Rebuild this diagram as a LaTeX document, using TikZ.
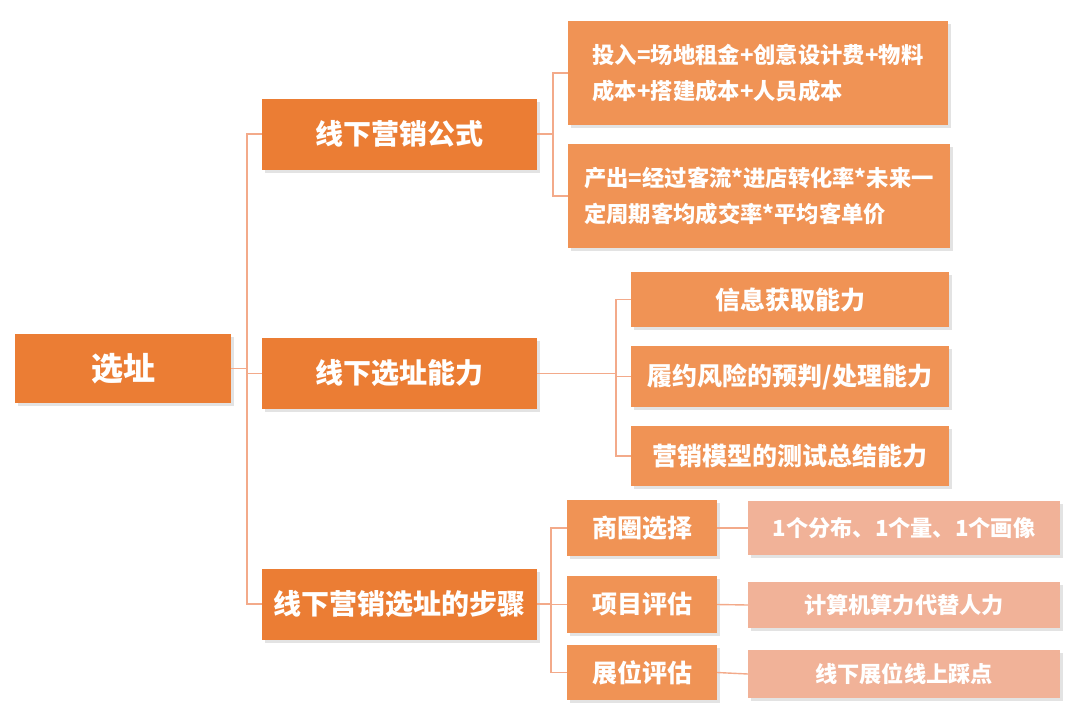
\documentclass[tikz,border=0pt]{standalone}
\usepackage{fontspec}
\setmainfont{Noto Sans CJK SC}
\usetikzlibrary{shadows}
\definecolor{dark}{RGB}{235,125,52}
\definecolor{mid}{RGB}{240,147,85}
\definecolor{light}{RGB}{241,178,152}
\definecolor{link}{RGB}{243,170,138}
\tikzset{
  box/.style={draw=none, text=white, font=\bfseries, inner sep=0pt, align=center,
    drop shadow={opacity=0.22, shadow xshift=2.5pt, shadow yshift=-3pt}},
  rootbox/.style={box, fill=dark, font=\fontsize{32}{36}\selectfont\bfseries},
  lvtwo/.style={box, fill=dark, minimum width=275pt, minimum height=71pt, font=\fontsize{28}{32}\selectfont\bfseries},
  formula/.style={box, fill=mid, font=\fontsize{22.3}{36.5}\selectfont\bfseries, align=left},
  ability/.style={box, fill=mid, minimum width=318pt, font=\fontsize{25}{30}\selectfont\bfseries},
  stepbox/.style={box, fill=mid, minimum width=150pt, font=\fontsize{25}{30}\selectfont\bfseries},
  detail/.style={box, fill=light, minimum width=312pt, font=\fontsize{22.2}{26}\selectfont\bfseries},
  conn/.style={draw=link, line width=1.4pt}
}
\begin{document}
\begin{tikzpicture}[x=1pt,y=-1pt]
\useasboundingbox (0,0) rectangle (1080,721);
% root
\node[rootbox, minimum width=216pt, minimum height=69pt] (root) at (123,368.5) {选址};
% level 2
\node[lvtwo] (b1) at (399.5,134) {线下营销公式};
\node[lvtwo] (b2) at (399.5,373.5) {线下选址能力};
\node[lvtwo] (b3) at (399.5,604) {线下营销选址的步骤};
% formulas
\node[formula, minimum width=380pt, minimum height=104pt] (f1) at (758,73) {投入=场地租金+创意设计费+物料\\成本+搭建成本+人员成本};
\node[formula, minimum width=382pt, minimum height=104pt] (f2) at (759,196) {产出=经过客流*进店转化率*未来一\\定周期客均成交率*平均客单价};
% abilities
\node[ability, minimum height=55pt] (a1) at (790,299.5) {信息获取能力};
\node[ability, minimum height=61pt] (a2) at (790,376.5) {履约风险的预判/处理能力};
\node[ability, minimum height=60pt] (a3) at (790,456) {营销模型的测试总结能力};
% steps
\node[stepbox, minimum height=56pt] (s1) at (642,528) {商圈选择};
\node[stepbox, minimum height=57pt] (s2) at (642,604.5) {项目评估};
\node[stepbox, minimum height=55pt] (s3) at (642,672.5) {展位评估};
% details
\node[detail, minimum height=54pt] (d1) at (904,528) {1个分布、1个量、1个画像};
\node[detail, minimum height=46pt] (d2) at (904,605) {计算机算力代替人力};
\node[detail, minimum height=48pt] (d3) at (904,674) {线下展位线上踩点};
% connectors
\coordinate (j0) at (247,368.5);
\draw[conn] (root.east) -- (j0);
\draw[conn] (j0) |- (b1.west);
\draw[conn] (j0) |- (b2.west);
\draw[conn] (j0) |- (b3.west);
\coordinate (j1) at (553,134);
\draw[conn] (b1.east) -- (j1);
\draw[conn] (j1) |- (f1.west);
\draw[conn] (j1) |- (f2.west);
\coordinate (j2) at (616,373.5);
\draw[conn] (b2.east) -- (j2);
\draw[conn] (j2) |- (a1.west);
\draw[conn] (j2) |- (a2.west);
\draw[conn] (j2) |- (a3.west);
\coordinate (j3) at (551,604);
\draw[conn] (b3.east) -- (j3);
\draw[conn] (j3) |- (s1.west);
\draw[conn] (j3) |- (s2.west);
\draw[conn] (j3) |- (s3.west);
\draw[conn] (s1.east) -- (d1.west);
\draw[conn] (s2.east) -- (d2.west);
\draw[conn] (s3.east) -- (d3.west);
\end{tikzpicture}
\end{document}
